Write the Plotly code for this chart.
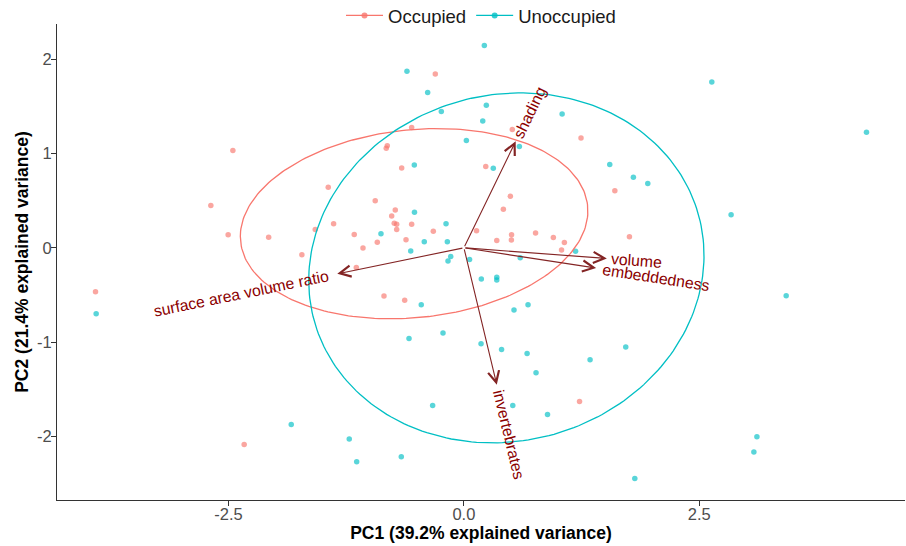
import numpy as np
import plotly.graph_objects as go

# ---------------- data ----------------
groups = ["Occupied", "Unoccupied"]
group_colors = ["#F8766D", "#00BFC4"]

occupied_pc1 = [-0.304, -0.555, -2.454, -0.814, -0.825, -0.661, -1.441, -2.688, -0.942, -0.729,
                -0.767, -0.740, -0.714, -0.555, -1.384, -1.579, -0.714, -0.325, -1.165, -2.504,
                -2.074, -0.615, -0.920, -1.072, -1.721, -1.143, -3.913, -0.849, -0.629, -2.334,
                0.514, 1.244, 0.232, 1.603, 0.493, 0.419, 1.758, 0.134, 0.349, 0.506,
                0.504, 0.761, 0.950, 1.067, 1.037, 1.228]
occupied_pc2 = [1.844, 1.275, 1.031, 1.081, 1.055, 0.845, 0.643, 0.448, 0.498, 0.400,
                0.336, 0.260, 0.251, 0.251, 0.254, 0.194, 0.194, 0.175, 0.140, 0.138,
                0.113, 0.085, 0.060, -0.003, -0.074, -0.209, -0.466, -0.512, -0.556, -2.085,
                1.254, 1.164, 0.862, 0.604, 0.546, 0.410, 0.117, 0.180, 0.077, 0.138,
                0.083, 0.156, 0.109, 0.056, -0.024, -1.629]

unoccupied_pc1 = [-0.605, -0.385, -0.240, -0.527, -0.525, -0.190, -0.881, -0.421, -0.176, -0.565,
                  -0.140, -0.169, -3.906, -0.453, -0.583, -0.222, -0.332, -1.834, -1.218, -1.139,
                  -0.665, 0.217, 2.633, 4.276, 0.238, 0.200, 1.043, 0.026, 0.589, 0.312,
                  1.549, 1.800, 1.953, 2.838, 1.186, 0.060, 0.598, 0.185, 0.349, 0.349,
                  0.681, 0.532, 3.423, 0.182, 0.400, 0.671, 1.719, 1.340, 0.766, 0.519,
                  0.888, 3.112, 3.080, 1.815]
unoccupied_pc2 = [1.873, 1.646, 1.445, 0.877, 0.378, 0.254, 0.148, 0.064, 0.064, -0.035,
                  -0.092, -0.141, -0.700, -0.604, -0.961, -0.904, -1.673, -1.873, -2.028, -2.268,
                  -2.215, 2.144, 1.759, 1.226, 1.512, 1.344, 1.418, 1.139, 1.074, 0.843,
                  0.883, 0.749, 0.681, 0.350, -0.037, -0.125, -0.106, -0.332, -0.311, -0.342,
                  -0.604, -0.660, -0.509, -1.017, -1.078, -1.120, -1.052, -1.187, -1.325, -1.673,
                  -1.768, -2.003, -2.165, -2.445]

var_names = ["shading", "volume", "embeddedness", "invertebrates", "surface area volume ratio"]
var_pc1 = [0.550, 1.518, 1.404, 0.349, -1.345]
var_pc2 = [1.130, -0.113, -0.215, -1.452, -0.276]

x_tick_vals = [-2.5, 0.0, 2.5]
x_tick_text = ["-2.5", "0.0", "2.5"]
y_tick_vals = [-2, -1, 0, 1, 2]
y_tick_text = ["-2", "-1", "0", "1", "2"]

x_title = "PC1 (39.2% explained variance)"
y_title = "PC2 (21.4% explained variance)"

ellipse_prob = 0.68

# ---------------- style ----------------
FONT = "Liberation Sans, Arial, sans-serif"
ARROW_COLOR = "#832424"
LABEL_COLOR = "#8B0000"
LABEL_SIZE = 15.8
X_RANGE = [-4.322, 4.685]
Y_RANGE = [-2.674, 2.373]

# Arial advance widths (per 1000 em) for label-length estimation
ARIAL_W = {"a": 556, "b": 556, "c": 500, "d": 556, "e": 556, "f": 278, "g": 556, "h": 556,
           "i": 222, "j": 222, "k": 500, "l": 222, "m": 833, "n": 556, "o": 556, "p": 556,
           "q": 556, "r": 333, "s": 500, "t": 278, "u": 556, "v": 500, "w": 722, "x": 500,
           "y": 500, "z": 500, " ": 278}


def text_width(s, size):
    return sum(ARIAL_W.get(c, 556) for c in s) * size / 1000.0


def ellipse(xs, ys, prob):
    pts = np.column_stack([xs, ys])
    mu = pts.mean(axis=0)
    sigma = np.cov(pts, rowvar=False)
    L = np.linalg.cholesky(sigma)
    ed = np.sqrt(-2 * np.log(1 - prob))
    t = np.linspace(-np.pi, np.pi, 240)
    circ = np.vstack([np.cos(t), np.sin(t)])
    e = mu[:, None] + ed * (L @ circ)
    return e[0], e[1]


fig = go.Figure()

series = [(occupied_pc1, occupied_pc2), (unoccupied_pc1, unoccupied_pc2)]

for (xs, ys), name, col in zip(series, groups, group_colors):
    fig.add_trace(go.Scatter(x=xs, y=ys, mode="markers", showlegend=False,
                             marker=dict(color=col, size=5.5, opacity=0.65, line=dict(width=0)),
                             hoverinfo="skip"))

for (xs, ys), name, col in zip(series, groups, group_colors):
    ex, ey = ellipse(xs, ys, ellipse_prob)
    fig.add_trace(go.Scatter(x=ex, y=ey, mode="lines", showlegend=False,
                             line=dict(color=col, width=1.3), hoverinfo="skip"))

# legend entries (line + point key)
for name, col in zip(groups, group_colors):
    fig.add_trace(go.Scatter(x=[None], y=[None], mode="lines+markers", name=name,
                             line=dict(color=col, width=1.3),
                             marker=dict(color=col, size=6, opacity=0.8)))

# variable arrows and labels
for name, vx, vy in zip(var_names, var_pc1, var_pc2):
    fig.add_annotation(x=vx, y=vy, ax=0, ay=0, xref="x", yref="y", axref="x", ayref="y",
                       text="", showarrow=True, arrowhead=5, arrowsize=2.0, arrowwidth=1.1,
                       arrowcolor=ARROW_COLOR, standoff=0, startstandoff=0)
    a = np.arctan2(vy, vx)
    ang = np.degrees(np.arctan(vy / vx))
    w = text_width(name, LABEL_SIZE)
    d = 2 + 0.04 * w + w / 2
    fig.add_annotation(x=vx, y=vy, xref="x", yref="y", text=name, showarrow=False,
                       textangle=-ang, xanchor="center", yanchor="middle",
                       xshift=d * np.cos(a), yshift=d * np.sin(a),
                       font=dict(family=FONT, size=LABEL_SIZE, color=LABEL_COLOR))

axis_common = dict(showgrid=False, zeroline=False, showline=True, linecolor="#333333",
                   linewidth=1.1, ticks="outside", ticklen=5, tickwidth=1.1,
                   tickcolor="#333333", automargin=False,
                   tickfont=dict(family=FONT, size=16.5, color="#4D4D4D"))

fig.update_layout(
    width=906, height=546,
    margin=dict(l=57, r=1, t=24, b=46, autoexpand=False),
    plot_bgcolor="white", paper_bgcolor="white",
    font=dict(family=FONT),
    xaxis=dict(range=X_RANGE, tickvals=x_tick_vals, ticktext=x_tick_text,
               ticklabelstandoff=-6,
               title=dict(text=x_title, standoff=2,
                          font=dict(family=FONT, size=17.5, color="black", weight="bold")),
               **axis_common),
    yaxis=dict(range=Y_RANGE, tickvals=y_tick_vals, ticktext=y_tick_text,
               ticklabelstandoff=-4,
               title=dict(text=y_title, standoff=3,
                          font=dict(family=FONT, size=17.5, color="black", weight="bold")),
               **axis_common),
    legend=dict(orientation="h", x=0.5, xanchor="center", y=1.017, yanchor="middle",
                itemwidth=37,
                font=dict(family=FONT, size=18.5, color="#1A1A1A"),
                bgcolor="rgba(0,0,0,0)"),
)

fig.write_html("out.html", config={"displayModeBar": False},
               post_script="document.body.style.margin='0px';")
